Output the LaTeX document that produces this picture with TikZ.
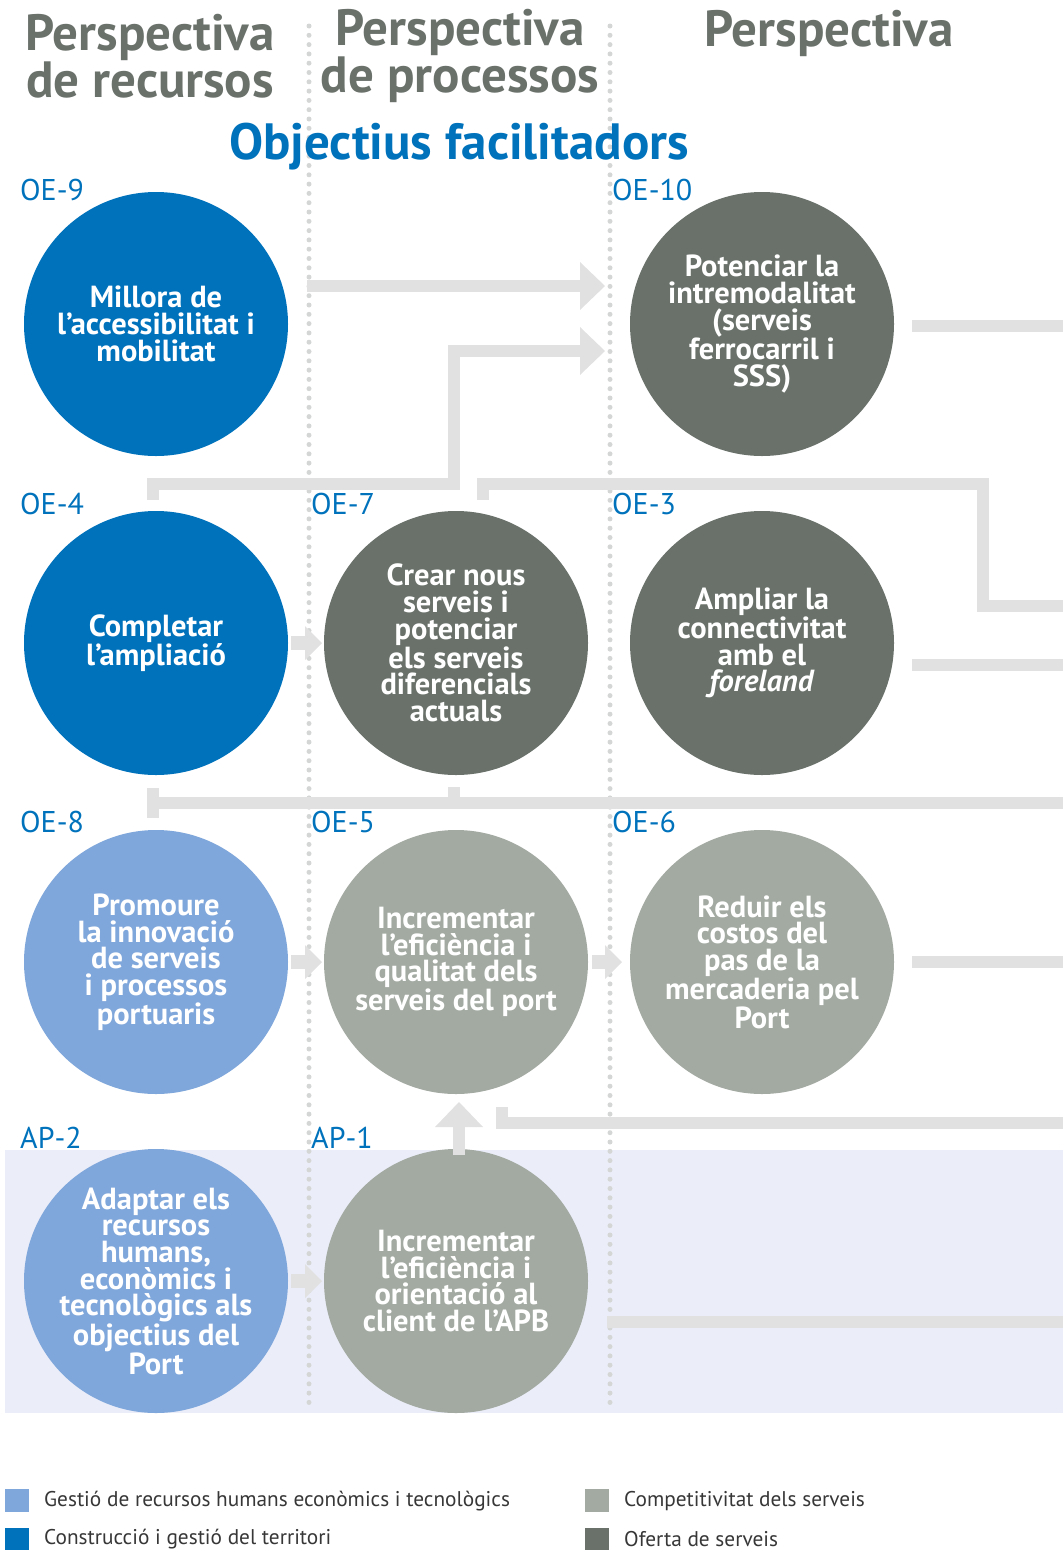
\documentclass[tikz,border=0pt]{standalone}
\usepackage{fontspec}
\setmainfont{PT Sans}
\usepackage{tikz}
\usetikzlibrary{positioning,arrows.meta}

\definecolor{blaufosc}{RGB}{0,114,188}
\definecolor{blauclar}{RGB}{128,167,219}
\definecolor{grisfosc}{RGB}{105,113,106}
\definecolor{grisclar}{RGB}{163,170,162}
\definecolor{connector}{RGB}{224,225,224}
\definecolor{titol}{RGB}{106,113,107}
\definecolor{franja}{RGB}{235,238,249}
\definecolor{puntets}{RGB}{212,213,213}
\definecolor{llegenda}{RGB}{55,55,55}

\tikzset{
	objectiu/.style={circle, minimum size=264pt, inner sep=-30pt, outer sep=0pt, text=white, align=center, font=\fontsize{30.5}{26.7}\selectfont\bfseries},
	codi/.style={anchor=west, inner sep=0pt, text=blaufosc, font=\fontsize{30}{30}\selectfont},
	capcalera/.style={text=titol, align=center, inner sep=0pt, font=\fontsize{51}{45}\selectfont\bfseries},
	enllac/.style={draw=connector, line width=12pt},
	fletxa/.style={enllac, -{Triangle[width=48pt,length=25pt,line width=0pt]}},
	fletxeta/.style={draw=connector, line width=14pt, -{Triangle[width=34pt,length=17pt,line width=0pt]}},
	columna/.style={draw=puntets, line width=5pt, line cap=round, dash pattern=on 0pt off 9.3pt},
	quadre/.style={minimum width=24pt, minimum height=23pt, inner sep=0pt},
	llegtext/.style={anchor=west, inner sep=0pt, text=llegenda, font=\fontsize{21.3}{24}\selectfont}
}

\begin{document}
\begin{tikzpicture}[x=1pt, y=-1pt]
	\useasboundingbox (0,0) rectangle (1063,1550);
	\fill[franja] (5,1150) rectangle (1063,1413);
	\draw[columna] (309,26) -- (309,1408);
	\draw[columna] (610,26) -- (610,1408);

	\node[capcalera] (persp1) at (150,56) {Perspectiva\\de recursos};
	\node[capcalera] (persp2) at (460,56) {Perspectiva\\de processos};
	\node[capcalera] (persp3) at (829,33) {Perspectiva};
	\node[capcalera, text=blaufosc] (facil) at (459,147) {Objectius facilitadors};

	\node[objectiu, fill=blaufosc] (oe9) at (156,324) {Millora de\\l’accessibilitat i\\mobilitat};
	\node[objectiu, fill=grisfosc] (oe10) at (762,324) {Potenciar la\\intremodalitat\\(serveis\\ferrocarril i\\SSS)};
	\node[objectiu, fill=blaufosc] (oe4) at (156,643) {Completar\\l’ampliació};
	\node[objectiu, fill=grisfosc] (oe7) at (456,643) {Crear nous\\serveis i\\potenciar\\els serveis\\diferencials\\actuals};
	\node[objectiu, fill=grisfosc] (oe3) at (762,643) {Ampliar la\\connectivitat\\amb el\\\textit{foreland}};
	\node[objectiu, fill=blauclar] (oe8) at (156,962) {Promoure\\la innovació\\de serveis\\i processos\\portuaris};
	\node[objectiu, fill=grisclar] (oe5) at (456,962) {Incrementar\\l’eficiència i\\qualitat dels\\serveis del port};
	\node[objectiu, fill=grisclar] (oe6) at (762,962) {Reduir els\\costos del\\pas de la\\mercaderia pel\\Port};
	\node[objectiu, fill=blauclar] (ap2) at (156,1281) {Adaptar els\\recursos\\humans,\\econòmics i\\tecnològics als\\objectius del\\Port};
	\node[objectiu, fill=grisclar] (ap1) at (456,1281) {Incrementar\\l’eficiència i\\orientació al\\client de l’APB};

	\node[codi] (c9) at (20,190) {OE-9};
	\node[codi] (c10) at (612,190) {OE-10};
	\node[codi] (c4) at (20,504) {OE-4};
	\node[codi] (c7) at (311,504) {OE-7};
	\node[codi] (c3) at (612,504) {OE-3};
	\node[codi] (c8) at (20,822) {OE-8};
	\node[codi] (c5) at (311,822) {OE-5};
	\node[codi] (c6) at (612,822) {OE-6};
	\node[codi] (a2) at (20,1138) {AP-2};
	\node[codi] (a1) at (311,1138) {AP-1};

	\coordinate (p1) at (307,286);
	\coordinate (p2) at (153,500);
	\coordinate (p3) at (483,500);
	\coordinate (p4) at (153,788);
	\coordinate (p5) at (454,787);
	\coordinate (p6) at (502,1107);
	\coordinate (p7) at (607,1322);
	\coordinate (v10) at (1063,326);
	\coordinate (v3a) at (1063,606);
	\coordinate (v3b) at (1063,665);
	\coordinate (v8) at (1063,803);
	\coordinate (v6) at (1063,962);
	\coordinate (v5) at (1063,1123);
	\coordinate (v1) at (1063,1322);

	\draw[fletxa] (p1) -- ([xshift=-25pt]oe10.west |- p1);
	\draw[fletxa] (p2) |- (454,484) |- ([xshift=-25pt,yshift=-27pt]oe10.west);
	\draw[enllac] (p3) |- (983,484) |- (v3a);
	\draw[enllac] ([xshift=18pt]oe10.east |- v10) -- (v10);
	\draw[enllac] ([xshift=18pt]oe3.east |- v3b) -- (v3b);
	\draw[enllac] (p4) -- (153,818);
	\draw[enllac] (153,803) -- (v8);
	\draw[enllac] (p5) -- (454,803);
	\draw[enllac] ([xshift=18pt]oe6.east) -- (v6);
	\draw[enllac] (p6) |- (v5);
	\draw[enllac] (p7) -- (v1);

	\draw[fletxeta] ([xshift=3pt]oe4.east) -- ([xshift=-2pt]oe7.west);
	\draw[fletxeta] ([xshift=3pt]oe8.east) -- ([xshift=-2pt]oe5.west);
	\draw[fletxeta] ([xshift=4pt]oe5.east) -- ([xshift=-8pt]oe6.west);
	\draw[fletxeta] ([xshift=3pt]ap2.east) -- ([xshift=-2pt]ap1.west);
	\draw[fletxa] ([xshift=3pt,yshift=-6pt]ap1.north) -- ([xshift=3pt,yshift=-8pt]oe5.south);

	\node[quadre, fill=blauclar] (q1) at (17,1500) {};
	\node[llegtext] (l1) at (44,1501) {Gestió de recursos humans econòmics i tecnològics};
	\node[quadre, fill=blaufosc] (q2) at (17,1539) {};
	\node[llegtext] (l2) at (44,1539) {Construcció i gestió del territori};
	\node[quadre, fill=grisclar] (q3) at (597,1500) {};
	\node[llegtext] (l3) at (624,1501) {Competitivitat dels serveis};
	\node[quadre, fill=grisfosc] (q4) at (597,1539) {};
	\node[llegtext] (l4) at (624,1539) {Oferta de serveis};
\end{tikzpicture}
\end{document}
